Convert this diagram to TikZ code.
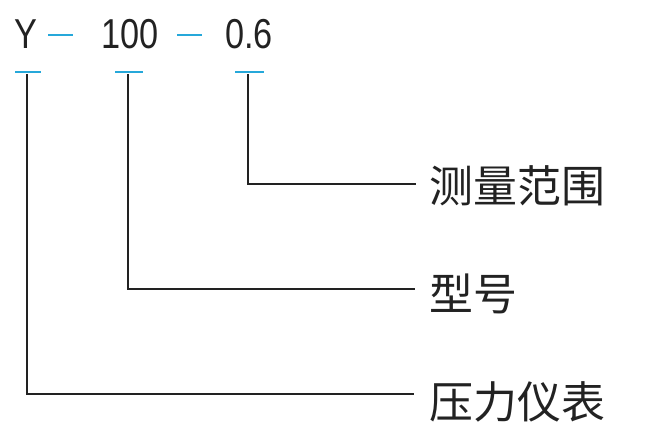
\documentclass[tikz,border=0pt]{standalone}
\usepackage{fontspec}
\setmainfont{Liberation Sans}
\newfontfamily\codefont[FakeStretch=0.82]{Liberation Sans}
\newfontfamily\cjk{Noto Sans CJK SC}
\definecolor{barblue}{RGB}{38,168,218}
\definecolor{inkgray}{RGB}{34,34,34}
\tikzset{
  code/.style={inkgray, inner sep=0pt, anchor=base, font=\codefont\fontsize{23.8pt}{24pt}\selectfont},
  label/.style={inkgray, inner sep=0pt, anchor=west, font=\cjk\fontsize{25pt}{26pt}\selectfont},
  bar/.style={barblue, line width=1.5pt},
  lead/.style={inkgray, line width=1.1pt}
}
\begin{document}
\begin{tikzpicture}[x=0.2mm, y=-0.2mm]
    \useasboundingbox (0,0) rectangle (650,445);
    % code letters
    \node [code] (tY) at (26,48) {Y};
    \node [code] (tSize) at (130,48) {100};
    \node [code] (tRange) at (249,48) {0.6};
    \draw [bar] (48,35) -- (73,35) (177,35) -- (202,35);
    % underbars
    \draw [bar] (15,72) -- (41,72) (115,72) -- (143,72) (235,72) -- (264,72);
    \coordinate (bY) at (27,74);
    \coordinate (bSize) at (128,74);
    \coordinate (bRange) at (248,74);
    % leader ends
    \coordinate (eRange) at (416,184);
    \coordinate (eSize) at (415,289);
    \coordinate (eY) at (414,394);
    \node [label] (lRange) at ([shift={(13,2)}]eRange) {测量范围};
    \node [label] (lSize) at ([shift={(14,4.5)}]eSize) {型号};
    \node [label] (lY) at ([shift={(15,7.5)}]eY) {压力仪表};
    \draw [lead] (bRange) |- (eRange);
    \draw [lead] (bSize) |- (eSize);
    \draw [lead] (bY) |- (eY);
  \end{tikzpicture}
\end{document}
